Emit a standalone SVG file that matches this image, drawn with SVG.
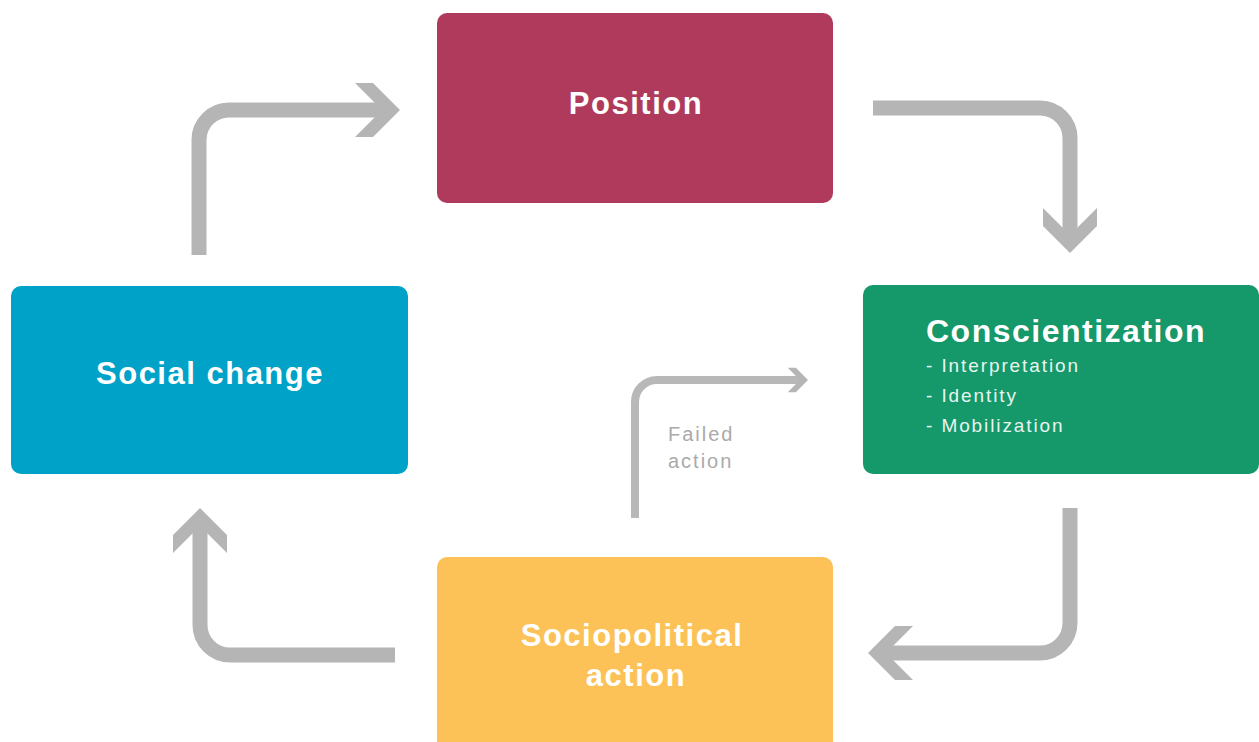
<svg xmlns="http://www.w3.org/2000/svg" xmlns:xlink="http://www.w3.org/1999/xlink" width="1259" height="742" viewBox="0 0 1259 742">
  <style>
    .box { stroke: none; }
    .title { font-family: "Liberation Sans", Arial, sans-serif; font-weight: bold; font-size: 31px; letter-spacing: 1.5px; fill: #ffffff; text-anchor: middle; }
    .item { font-family: "Liberation Sans", Arial, sans-serif; font-size: 19px; letter-spacing: 1.9px; fill: #e8f5ef; }
    .flow { fill: none; stroke: #b5b5b5; stroke-width: 15; stroke-linecap: butt; }
    .flow-thin { fill: none; stroke: #b8b8b8; stroke-width: 8; }
    .head { fill: #b5b5b5; }
    .note { font-family: "Liberation Sans", Arial, sans-serif; font-size: 20px; letter-spacing: 2px; fill: #aaaaaa; }
  </style>
  <defs>
    <!-- chevron arrowhead, tip at the origin, pointing right -->
    <polygon id="chevron" points="-45,-27 -27,-27 0,0 -27,27 -45,27 -18,0"/>
  </defs>

  <rect width="1259" height="742" fill="#ffffff"/>

  <g id="connectors">
    <!-- Social change -> Position -->
    <path class="flow" d="M199,255 V140 A30,30 0 0 1 229,110 H384"/>
    <use xlink:href="#chevron" class="head" transform="translate(400,110)"/>
    <!-- Position -> Conscientization -->
    <path class="flow" d="M873,108 H1040 A30,30 0 0 1 1070,138 V237"/>
    <use xlink:href="#chevron" class="head" transform="translate(1070,253) rotate(90)"/>
    <!-- Conscientization -> Sociopolitical action -->
    <path class="flow" d="M1070,508 V623 A30,30 0 0 1 1040,653 H884"/>
    <use xlink:href="#chevron" class="head" transform="translate(868,653) rotate(180)"/>
    <!-- Sociopolitical action -> Social change -->
    <path class="flow" d="M395,655 H230 A30,30 0 0 1 200,625 V524"/>
    <use xlink:href="#chevron" class="head" transform="translate(200,508) rotate(-90)"/>
    <!-- Failed action loop back to Conscientization -->
    <path class="flow-thin" d="M635,518 V402 A22,22 0 0 1 657,380 H800"/>
    <use xlink:href="#chevron" class="head" transform="translate(808,380) scale(0.45)"/>
    <text class="note" x="668" y="441">Failed</text>
    <text class="note" x="668" y="468">action</text>
  </g>

  <g id="position">
    <rect class="box" x="437" y="13" width="396" height="190" rx="10" fill="#b03a5c"/>
    <text class="title" x="636" y="114">Position</text>
  </g>

  <g id="social-change">
    <rect class="box" x="11" y="286" width="397" height="188" rx="10" fill="#00a2c8"/>
    <text class="title" x="210" y="384">Social change</text>
  </g>

  <g id="conscientization">
    <rect class="box" x="863" y="285" width="396" height="189" rx="10" fill="#15986a"/>
    <text class="title" x="926" y="342" style="text-anchor:start;font-size:32px">Conscientization</text>
    <text class="item" x="926" y="372">- Interpretation</text>
    <text class="item" x="926" y="402">- Identity</text>
    <text class="item" x="926" y="432">- Mobilization</text>
  </g>

  <g id="sociopolitical-action">
    <rect class="box" x="437" y="557" width="396" height="195" rx="10" fill="#fcc257"/>
    <text class="title" x="632" y="646" fill="#fff8e6">Sociopolitical</text>
    <text class="title" x="636" y="686">action</text>
  </g>
</svg>
